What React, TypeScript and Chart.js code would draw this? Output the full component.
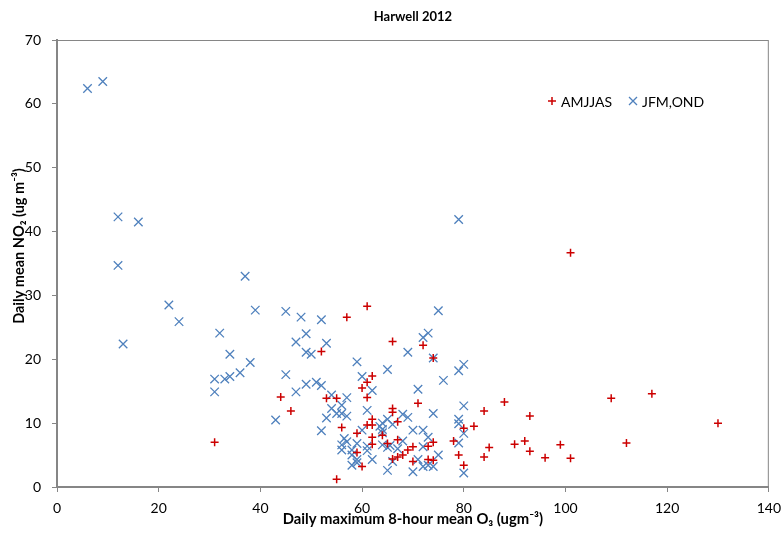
import React, { useEffect, useRef } from 'react';
import { Chart, registerables } from 'chart.js';

Chart.register(...registerables);

const TITLE = 'Harwell 2012';
const X_TITLE = 'Daily maximum 8-hour mean O₃ (ugm⁻³)';
const Y_TITLE = 'Daily mean NO₂ (ug m⁻³)';
const X_TICKS = [0, 20, 40, 60, 80, 100, 120, 140];
const Y_TICKS = [0, 10, 20, 30, 40, 50, 60, 70];

const SERIES_A_LABEL = 'AMJJAS';
const SERIES_A_X = [31, 44, 46, 52, 53, 55, 55, 56, 57, 59, 59, 60, 60, 61, 61, 61, 61, 62, 62, 62, 62, 62, 64, 65, 66, 66, 66, 66, 67, 67, 67, 68, 69, 70, 70, 71, 72, 73, 73, 74, 74, 74, 78, 79, 80, 80, 82, 84, 84, 85, 88, 90, 92, 93, 93, 96, 99, 101, 101, 109, 112, 117, 130];
const SERIES_A_Y = [7.0, 14.1, 11.9, 21.2, 13.9, 13.9, 1.2, 9.3, 26.6, 8.4, 5.4, 3.2, 15.5, 16.4, 14.0, 9.7, 28.3, 17.4, 10.6, 9.7, 7.8, 6.7, 8.1, 6.8, 22.8, 12.3, 11.7, 4.4, 10.2, 7.4, 4.7, 5.0, 5.8, 6.3, 4.0, 13.1, 22.2, 6.4, 4.3, 20.2, 7.0, 4.2, 7.2, 5.0, 9.2, 3.4, 9.5, 11.9, 4.7, 6.2, 13.3, 6.7, 7.2, 11.1, 5.6, 4.6, 6.6, 4.5, 36.7, 13.9, 6.9, 14.6, 10.0];

const SERIES_B_LABEL = 'JFM,OND';
const SERIES_B_X = [6, 9, 12, 16, 12, 13, 22, 24, 31, 31, 32, 33, 34, 34, 36, 37, 38, 39, 43, 45, 45, 47, 47, 48, 49, 49, 49, 50, 51, 52, 52, 52, 53, 53, 54, 54, 55, 56, 56, 56, 56, 57, 57, 56.5, 57, 58, 58, 58, 59, 59, 59, 59, 60, 60, 61, 61, 61, 62, 62, 63.5, 64, 64, 64, 64, 65, 65, 65, 65, 65.5, 66, 66, 67, 68, 68, 69, 69, 70, 70, 71, 71, 72, 72, 72, 72, 73, 73, 73, 74, 74, 74, 75, 75, 76, 79, 79, 79, 79, 79, 80, 80, 80, 80];
const SERIES_B_Y = [62.4, 63.5, 42.3, 41.5, 34.7, 22.4, 28.5, 25.9, 16.9, 14.9, 24.1, 16.9, 17.3, 20.8, 17.9, 33.0, 19.5, 27.7, 10.5, 27.5, 17.6, 22.7, 14.9, 26.6, 24.0, 21.1, 16.1, 20.8, 16.4, 26.2, 15.9, 8.8, 22.5, 10.8, 14.4, 12.3, 11.5, 12.8, 11.5, 6.6, 5.8, 14.0, 11.1, 7.6, 7.1, 5.8, 5.0, 3.4, 19.6, 6.8, 4.3, 3.8, 17.3, 8.9, 12.0, 6.4, 5.7, 15.1, 4.3, 9.5, 9.0, 8.5, 10.0, 6.6, 18.4, 10.6, 6.2, 2.6, 6.5, 4.0, 9.8, 6.0, 11.4, 7.2, 21.1, 10.9, 8.9, 2.4, 15.3, 4.3, 23.4, 8.9, 6.3, 3.2, 24.1, 7.8, 3.4, 20.2, 11.5, 3.2, 27.6, 5.0, 16.7, 41.9, 18.2, 10.6, 9.9, 6.9, 19.2, 12.7, 8.4, 2.2];

const RED = '#CC0000';
const BLUE = '#4F81BD';
const AXIS = '#868686';
const FONT = 'Lato, "Liberation Sans", sans-serif';

const toPoints = (xs: number[], ys: number[]) => xs.map((x, i) => ({ x, y: ys[i] }));

const framePlugin = {
  id: 'frameTitleLegend',
  afterDraw(chart: any) {
    const { ctx, chartArea } = chart;
    const { left, right, top, bottom } = chartArea;
    ctx.save();
    // plot area border
    ctx.strokeStyle = AXIS;
    ctx.lineWidth = 1;
    ctx.strokeRect(left + 0.5, top + 0.5, right - left - 1, bottom - top - 1);
    // title
    ctx.fillStyle = '#000';
    ctx.font = `bold 13px ${FONT}`;
    ctx.textAlign = 'center';
    ctx.textBaseline = 'middle';
    ctx.fillText(TITLE, (left + right) / 2, 17);
    // y axis title
    ctx.save();
    ctx.translate(19.5, top + 206);
    ctx.rotate(-Math.PI / 2);
    ctx.font = `bold 14.5px ${FONT}`;
    ctx.fillText(Y_TITLE, 0, 0);
    ctx.restore();
    // legend
    const ds = chart.data.datasets;
    const ly = top + 61;
    let lx = left + 495;
    ctx.font = `14px ${FONT}`;
    ctx.textAlign = 'left';
    ds.forEach((d: any, i: number) => {
      ctx.strokeStyle = d.borderColor;
      ctx.lineWidth = d.borderWidth;
      ctx.beginPath();
      if (i === 0) {
        ctx.moveTo(lx - 4, ly); ctx.lineTo(lx + 4, ly);
        ctx.moveTo(lx, ly - 4); ctx.lineTo(lx, ly + 4);
      } else {
        ctx.moveTo(lx - 4, ly - 4); ctx.lineTo(lx + 4, ly + 4);
        ctx.moveTo(lx + 4, ly - 4); ctx.lineTo(lx - 4, ly + 4);
      }
      ctx.stroke();
      ctx.fillStyle = '#000';
      ctx.fillText(d.label, lx + 9, ly + 1);
      const w = ctx.measureText(d.label).width;
      lx += 9 + w + 21;
    });
    ctx.restore();
  },
};

export default function App() {
  const ref = useRef<HTMLCanvasElement | null>(null);
  useEffect(() => {
    if (!ref.current) return;
    const chart = new Chart(ref.current, {
      type: 'scatter',
      data: {
        datasets: [
          {
            label: SERIES_A_LABEL,
            data: toPoints(SERIES_A_X, SERIES_A_Y),
            pointStyle: 'cross',
            pointRadius: 4,
            borderColor: RED,
            backgroundColor: RED,
            borderWidth: 1.5,
          },
          {
            label: SERIES_B_LABEL,
            data: toPoints(SERIES_B_X, SERIES_B_Y),
            pointStyle: 'crossRot',
            pointRadius: 6,
            borderColor: BLUE,
            backgroundColor: BLUE,
            borderWidth: 1.3,
          },
        ],
      },
      options: {
        animation: false,
        responsive: false,
        devicePixelRatio: 1,
        layout: { padding: { left: 0, right: 13, top: 40, bottom: 0 } },
        plugins: {
          legend: { display: false },
          title: { display: false },
          tooltip: { enabled: false },
        },
        scales: {
          x: {
            type: 'linear',
            min: 0,
            max: 140,
            afterBuildTicks: (s: any) => { s.ticks = X_TICKS.map((v) => ({ value: v })); },
            afterFit: (s: any) => { s.height = 47; },
            grid: { display: true, drawOnChartArea: false, drawTicks: true, tickLength: 5, color: AXIS },
            border: { display: true, color: AXIS, width: 2 },
            ticks: { color: '#000', font: { family: FONT, size: 14, lineHeight: 2.2 }, padding: 1, maxRotation: 0 },
            title: {
              display: true,
              text: X_TITLE,
              color: '#000',
              font: { family: FONT, size: 14.8, weight: 'bold' },
              padding: { top: 0, bottom: 6 },
            },
          },
          y: {
            type: 'linear',
            min: 0,
            max: 70,
            afterBuildTicks: (s: any) => { s.ticks = Y_TICKS.map((v) => ({ value: v })); },
            afterFit: (s: any) => { s.width = 57; },
            grid: { display: true, drawOnChartArea: false, drawTicks: true, tickLength: 5, color: AXIS },
            border: { display: true, color: AXIS, width: 2 },
            ticks: { color: '#000', font: { family: FONT, size: 14 }, padding: 11 },
            title: { display: false },
          },
        },
      },
      plugins: [framePlugin],
    } as any);
    return () => chart.destroy();
  }, []);
  return (
    <div style={{ position: 'absolute', left: 0, top: 0, width: 782, height: 534, background: '#fff' }}>
      <canvas ref={ref} width={782} height={534} />
    </div>
  );
}
